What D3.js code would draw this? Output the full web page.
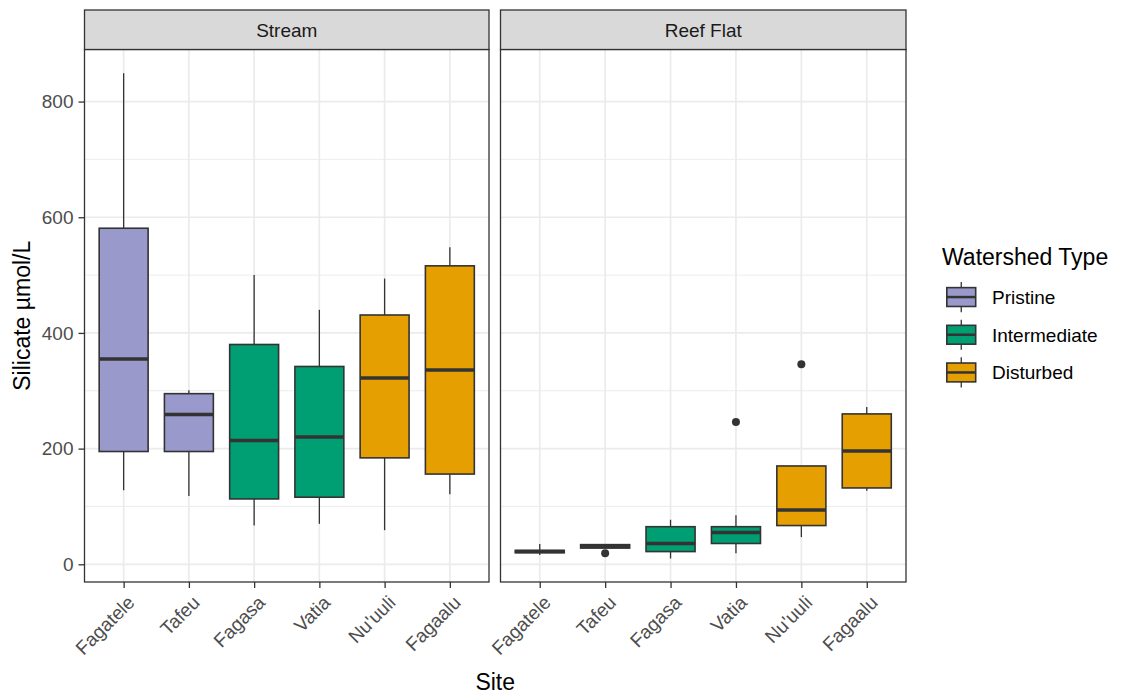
<!DOCTYPE html>
<html>
<head>
<meta charset="utf-8">
<script src="https://cdn.jsdelivr.net/npm/d3@7/dist/d3.min.js"></script>
<style>
  html, body { margin: 0; padding: 0; background: #ffffff; }
  svg { display: block; font-family: "Liberation Sans", Arial, sans-serif; }
</style>
</head>
<body>
<svg id="chart" width="1122" height="698"></svg>
<script>
// ---------- data ----------
const sites = ["Fagatele", "Tafeu", "Fagasa", "Vatia", "Nu'uuli", "Fagaalu"];
const siteType = ["Pristine", "Pristine", "Intermediate", "Intermediate", "Disturbed", "Disturbed"];
const facets = ["Stream", "Reef Flat"];

// Stream boxplot statistics (ymin, q1, median, q3, ymax)
const streamMin = [128, 118, 67, 70, 59, 121];
const streamQ1 = [195, 195, 113, 116, 184, 156];
const streamMed = [355, 259, 214, 220, 322, 336];
const streamQ3 = [581, 295, 380, 342, 431, 516];
const streamMax = [849, 301, 500, 440, 494, 548];

// Reef Flat boxplot statistics
const reefMin = [16, 28, 10, 19, 47, 127];
const reefQ1 = [20, 28, 22, 36, 67, 132];
const reefMed = [22, 31, 36, 55, 94, 196];
const reefQ3 = [24, 34, 65, 65, 170, 260];
const reefMax = [35, 35, 77, 85, 170, 272];

// Reef Flat outliers
const reefOutlierSite = ["Tafeu", "Vatia", "Nu'uuli"];
const reefOutlierValue = [19, 246, 346];

const yTicks = [0, 200, 400, 600, 800];
const yMinorTicks = [100, 300, 500, 700];
const typeNames = ["Pristine", "Intermediate", "Disturbed"];
const typeColors = ["#9999cc", "#009e73", "#e69f00"];

// ---------- layout ----------
const svg = d3.select("#chart");
const panelTop = 49.5, panelBottom = 582, stripTop = 10;
const panels = [
  { name: facets[0], x0: 84.5, x1: 489,
    min: streamMin, q1: streamQ1, med: streamMed, q3: streamQ3, max: streamMax, out: [] },
  { name: facets[1], x0: 500.5, x1: 906,
    min: reefMin, q1: reefQ1, med: reefMed, q3: reefQ3, max: reefMax,
    out: reefOutlierSite.map((s, i) => ({ site: s, value: reefOutlierValue[i] })) }
];

const y = d3.scaleLinear().domain([-30.6, 890]).range([panelBottom, panelTop]);
const color = d3.scaleOrdinal().domain(typeNames).range(typeColors);

const gridCol = "#ebebeb", dark = "#333333";

panels.forEach((p, pi) => {
  const x = d3.scalePoint().domain(sites).range([p.x0, p.x1]).padding(0.6);
  const bw = x.step() * 0.75;
  const g = svg.append("g");

  // background
  g.append("rect").attr("x", p.x0).attr("y", panelTop)
    .attr("width", p.x1 - p.x0).attr("height", panelBottom - panelTop).attr("fill", "#fff");

  // grid
  g.selectAll(".minor").data(yMinorTicks).join("line")
    .attr("x1", p.x0).attr("x2", p.x1)
    .attr("y1", d => y(d)).attr("y2", d => y(d))
    .attr("stroke", gridCol).attr("stroke-width", 0.9);
  g.selectAll(".major").data(yTicks).join("line")
    .attr("x1", p.x0).attr("x2", p.x1)
    .attr("y1", d => y(d)).attr("y2", d => y(d))
    .attr("stroke", gridCol).attr("stroke-width", 1.7);
  g.selectAll(".vmajor").data(sites).join("line")
    .attr("x1", d => x(d)).attr("x2", d => x(d))
    .attr("y1", panelTop).attr("y2", panelBottom)
    .attr("stroke", gridCol).attr("stroke-width", 1.7);

  // boxes
  const rows = sites.map((s, i) => ({
    site: s, type: siteType[i], min: p.min[i], q1: p.q1[i], med: p.med[i], q3: p.q3[i], max: p.max[i]
  }));
  const bg = g.selectAll(".box").data(rows).join("g");
  bg.append("line")
    .attr("x1", d => x(d.site)).attr("x2", d => x(d.site))
    .attr("y1", d => y(d.q3)).attr("y2", d => y(d.max))
    .attr("stroke", dark).attr("stroke-width", 1.3);
  bg.append("line")
    .attr("x1", d => x(d.site)).attr("x2", d => x(d.site))
    .attr("y1", d => y(d.q1)).attr("y2", d => y(d.min))
    .attr("stroke", dark).attr("stroke-width", 1.3);
  bg.append("rect")
    .attr("x", d => x(d.site) - bw / 2).attr("width", bw)
    .attr("y", d => y(d.q3)).attr("height", d => Math.max(0.01, y(d.q1) - y(d.q3)))
    .attr("fill", d => color(d.type)).attr("stroke", dark).attr("stroke-width", 1.6);
  bg.append("line")
    .attr("x1", d => x(d.site) - bw / 2).attr("x2", d => x(d.site) + bw / 2)
    .attr("y1", d => y(d.med)).attr("y2", d => y(d.med))
    .attr("stroke", dark).attr("stroke-width", 3.4);

  // outliers
  g.selectAll(".out").data(p.out).join("circle")
    .attr("cx", d => x(d.site)).attr("cy", d => y(d.value)).attr("r", 4)
    .attr("fill", dark);

  // border
  g.append("rect").attr("x", p.x0).attr("y", panelTop)
    .attr("width", p.x1 - p.x0).attr("height", panelBottom - panelTop)
    .attr("fill", "none").attr("stroke", dark).attr("stroke-width", 1.3);

  // strip
  g.append("rect").attr("x", p.x0).attr("y", stripTop)
    .attr("width", p.x1 - p.x0).attr("height", panelTop - stripTop)
    .attr("fill", "#d9d9d9").attr("stroke", dark).attr("stroke-width", 1.3);
  g.append("text").attr("x", (p.x0 + p.x1) / 2).attr("y", 37)
    .attr("text-anchor", "middle").attr("font-size", 19).attr("fill", "#1a1a1a")
    .text(p.name);

  // x axis
  const xa = g.append("g").attr("transform", `translate(0,${panelBottom})`)
    .call(d3.axisBottom(x).tickSize(6).tickPadding(4));
  xa.select(".domain").remove();
  xa.selectAll(".tick line").attr("stroke", dark).attr("stroke-width", 1.3);
  xa.selectAll(".tick text")
    .attr("font-size", 19).attr("fill", "#4d4d4d")
    .attr("font-family", '"Liberation Sans", Arial, sans-serif')
    .attr("text-anchor", "end")
    .attr("y", 0).attr("dy", 0)
    .attr("transform", "translate(2,12) rotate(-45)")
    .attr("dy", "0.72em");

  // y axis (left panel only)
  if (pi === 0) {
    const ya = g.append("g").attr("transform", `translate(${p.x0},0)`)
      .call(d3.axisLeft(y).tickValues(yTicks).tickSize(6).tickPadding(5));
    ya.select(".domain").remove();
    ya.selectAll(".tick line").attr("stroke", dark).attr("stroke-width", 1.3);
    ya.selectAll(".tick text").attr("font-size", 19).attr("fill", "#4d4d4d")
      .attr("font-family", '"Liberation Sans", Arial, sans-serif');
  }
});

// axis titles
svg.append("text").attr("transform", `translate(30,${(panelTop + panelBottom) / 2}) rotate(-90)`)
  .attr("text-anchor", "middle").attr("font-size", 23).attr("fill", "#000")
  .text("Silicate µmol/L");
svg.append("text").attr("x", (84.5 + 906) / 2).attr("y", 690)
  .attr("text-anchor", "middle").attr("font-size", 23).attr("fill", "#000")
  .text("Site");

// legend
const lg = svg.append("g");
lg.append("text").attr("x", 942).attr("y", 265).attr("font-size", 23).attr("fill", "#000")
  .text("Watershed Type");
const keyH = 37.7, keyW = 38.5, keyX = 942, keyY0 = 278.2;
const items = lg.selectAll(".item").data(typeNames).join("g")
  .attr("transform", (d, i) => `translate(${keyX},${keyY0 + i * keyH})`);
items.append("line").attr("x1", keyW / 2).attr("x2", keyW / 2)
  .attr("y1", keyH * 0.1).attr("y2", keyH * 0.9)
  .attr("stroke", dark).attr("stroke-width", 1.3);
items.append("rect").attr("x", keyW * 0.125).attr("width", keyW * 0.75)
  .attr("y", keyH * 0.25).attr("height", keyH * 0.5)
  .attr("fill", d => color(d)).attr("stroke", dark).attr("stroke-width", 1.6);
items.append("line").attr("x1", keyW * 0.125).attr("x2", keyW * 0.875)
  .attr("y1", keyH / 2).attr("y2", keyH / 2)
  .attr("stroke", dark).attr("stroke-width", 2.5);
items.append("text").attr("x", 50).attr("y", keyH / 2).attr("dy", "0.36em")
  .attr("font-size", 19).attr("fill", "#000").text(d => d);
</script>
</body>
</html>
